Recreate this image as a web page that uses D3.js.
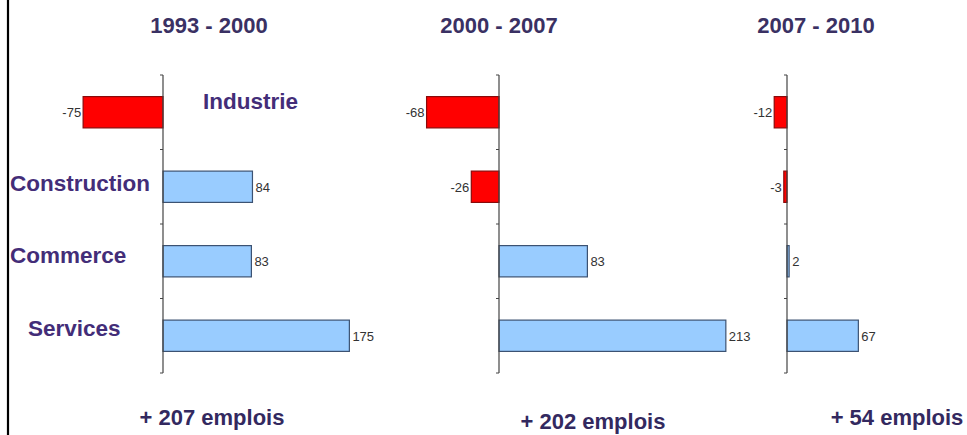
<!DOCTYPE html>
<html><head><meta charset="utf-8">
<script src="https://cdn.jsdelivr.net/npm/d3@7"></script>
<style>
html,body{margin:0;padding:0;background:#fff;}
svg{display:block;}
text{font-family:"Liberation Sans",Arial,sans-serif;}
</style></head>
<body><svg id="chart" width="967" height="435"></svg>
<script>
// ---- data ----
const categories = ["Industrie", "Construction", "Commerce", "Services"];
const periods = ["1993 - 2000", "2000 - 2007", "2007 - 2010"];
const values1993_2000 = [-75, 84, 83, 175];
const values2000_2007 = [-68, -26, 83, 213];
const values2007_2010 = [-12, -3, 2, 67];
const totals = ["+ 207 emplois", "+ 202 emplois", "+ 54 emplois"];
const seriesValues = [values1993_2000, values2000_2007, values2007_2010];

// ---- layout ----
const W = 967, H = 435;
const axisX = [163, 499, 787];
const titleX = [209, 499, 816];
const titleY = 33;
const totalX = [212, 593, 897];
const totalY = [425, 429, 425];
const catLabelPos = [ // [x, anchor, baseline offset from band center]
  [203, "start", -3],
  [10, "start", 4],
  [10, "start", 2],
  [28, "start", 0]
];
const pxPerUnit = 1.065;

const svg = d3.select("#chart");
svg.append("rect").attr("width", W).attr("height", H).attr("fill", "#fff");
svg.append("line").attr("x1", 8).attr("x2", 8).attr("y1", 0).attr("y2", H)
  .attr("stroke", "#000").attr("stroke-width", 2.2);

const y = d3.scaleBand().domain(categories).range([75, 373])
  .paddingInner(0.58).paddingOuter(0.29);

periods.forEach((p, i) => {
  const x = d3.scaleLinear().domain([0, 100]).range([axisX[i], axisX[i] + 100 * pxPerUnit]);
  const g = svg.append("g");
  const vals = seriesValues[i];

  // bars
  g.selectAll("rect.bar").data(vals).join("rect")
    .attr("class", "bar")
    .attr("x", d => Math.min(x(0), x(d)))
    .attr("width", d => Math.abs(x(d) - x(0)))
    .attr("y", (d, j) => y(categories[j]))
    .attr("height", y.bandwidth())
    .attr("fill", d => d < 0 ? "#ff0000" : "#99ccff")
    .attr("stroke", d => d < 0 ? "#8a0a0a" : "#3c5272")
    .attr("stroke-width", 1.2);

  // axis with ticks at band boundaries
  const step = y.step();
  const bounds = d3.range(categories.length + 1).map(k => 75 + k * step);
  g.append("line").attr("x1", x(0)).attr("x2", x(0))
    .attr("y1", bounds[0]).attr("y2", bounds[bounds.length - 1])
    .attr("stroke", "#444").attr("stroke-width", 1.2);
  g.selectAll("line.tick").data(bounds).join("line")
    .attr("class", "tick")
    .attr("x1", x(0) - 3).attr("x2", x(0))
    .attr("y1", d => d).attr("y2", d => d)
    .attr("stroke", "#444").attr("stroke-width", 1);

  // value labels
  g.selectAll("text.val").data(vals).join("text")
    .attr("class", "val")
    .attr("x", d => d < 0 ? x(d) - 2 : x(d) + 3)
    .attr("y", (d, j) => y(categories[j]) + y.bandwidth() / 2 + 5)
    .attr("text-anchor", d => d < 0 ? "end" : "start")
    .attr("font-size", 13)
    .attr("fill", "#333")
    .text(d => d);

  // titles
  svg.append("text").attr("x", titleX[i]).attr("y", titleY)
    .attr("text-anchor", "middle").attr("font-size", 22).attr("font-weight", "bold")
    .attr("fill", "#3a3163").text(p);

  // totals
  svg.append("text").attr("x", totalX[i]).attr("y", totalY[i])
    .attr("text-anchor", "middle").attr("font-size", 22).attr("font-weight", "bold")
    .attr("fill", "#33295f").text(totals[i]);
});

// category labels
svg.selectAll("text.cat").data(categories).join("text")
  .attr("class", "cat")
  .attr("x", (d, j) => catLabelPos[j][0])
  .attr("y", (d, j) => y(d) + y.bandwidth() / 2 + catLabelPos[j][2])
  .attr("text-anchor", (d, j) => catLabelPos[j][1])
  .attr("font-size", 22.5).attr("font-weight", "bold")
  .attr("fill", "#432d78")
  .text(d => d);
</script></body></html>
